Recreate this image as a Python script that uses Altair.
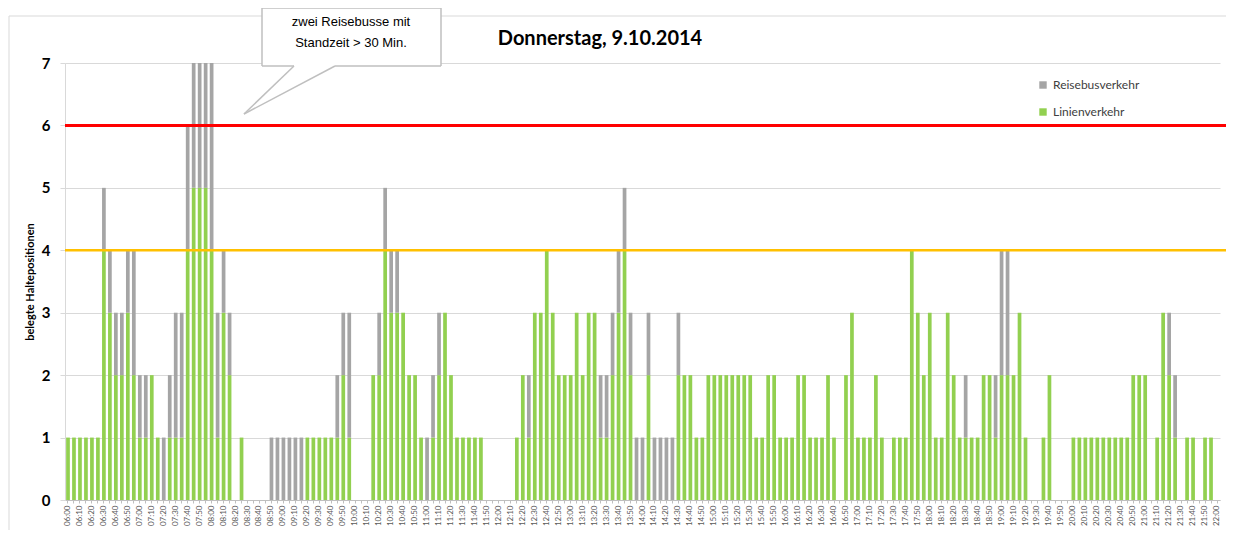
import altair as alt
import pandas as pd

# 5-minute categories 06:00 ... 22:00
times = [f"{h:02d}:{m:02d}" for h in range(6, 22) for m in range(0, 60, 5)] + ["22:00"]

# Linienverkehr (green) per 5-minute slot, one row per hour
linien = [
    1, 1, 1, 1, 1, 1, 4, 3, 2, 2, 3, 2,   # 06
    1, 1, 2, 1, 0, 1, 1, 1, 4, 5, 5, 5,   # 07
    4, 1, 3, 2, 0, 1, 0, 0, 0, 0, 0, 0,   # 08
    0, 0, 0, 0, 1, 1, 1, 1, 1, 1, 2, 1,   # 09
    0, 0, 0, 2, 2, 4, 3, 3, 3, 2, 2, 1,   # 10
    0, 1, 2, 3, 2, 1, 1, 1, 1, 1, 0, 0,   # 11
    0, 0, 0, 1, 2, 1, 3, 3, 4, 3, 2, 2,   # 12
    2, 3, 2, 3, 3, 1, 1, 2, 3, 4, 2, 0,   # 13
    0, 2, 0, 0, 0, 0, 2, 2, 2, 1, 1, 2,   # 14
    2, 2, 2, 2, 2, 2, 2, 1, 1, 2, 2, 1,   # 15
    1, 1, 2, 2, 1, 1, 1, 2, 1, 0, 2, 3,   # 16
    1, 1, 1, 2, 1, 0, 1, 1, 1, 4, 3, 2,   # 17
    3, 1, 1, 3, 2, 1, 1, 1, 1, 2, 2, 1,   # 18
    2, 2, 2, 3, 1, 0, 0, 1, 2, 0, 0, 0,   # 19
    1, 1, 1, 1, 1, 1, 1, 1, 1, 1, 2, 2,   # 20
    2, 0, 1, 3, 2, 1, 0, 1, 1, 0, 1, 1,   # 21
    0,                                    # 22:00
]

# Reisebusverkehr (grey) per 5-minute slot
reisebus = [
    0, 0, 0, 0, 0, 0, 1, 1, 1, 1, 1, 2,   # 06
    1, 1, 0, 0, 1, 1, 2, 2, 2, 2, 2, 2,   # 07
    3, 2, 1, 1, 0, 0, 0, 0, 0, 0, 1, 1,   # 08
    1, 1, 1, 1, 0, 0, 0, 0, 0, 1, 1, 2,   # 09
    0, 0, 0, 0, 1, 1, 1, 1, 0, 0, 0, 0,   # 10
    1, 1, 1, 0, 0, 0, 0, 0, 0, 0, 0, 0,   # 11
    0, 0, 0, 0, 0, 1, 0, 0, 0, 0, 0, 0,   # 12
    0, 0, 0, 0, 0, 1, 1, 1, 1, 1, 1, 1,   # 13
    1, 1, 1, 1, 1, 1, 1, 0, 0, 0, 0, 0,   # 14
    0, 0, 0, 0, 0, 0, 0, 0, 0, 0, 0, 0,   # 15
    0, 0, 0, 0, 0, 0, 0, 0, 0, 0, 0, 0,   # 16
    0, 0, 0, 0, 0, 0, 0, 0, 0, 0, 0, 0,   # 17
    0, 0, 0, 0, 0, 0, 1, 0, 0, 0, 0, 1,   # 18
    2, 2, 0, 0, 0, 0, 0, 0, 0, 0, 0, 0,   # 19
    0, 0, 0, 0, 0, 0, 0, 0, 0, 0, 0, 0,   # 20
    0, 0, 0, 0, 1, 1, 0, 0, 0, 0, 0, 0,   # 21
    0,                                    # 22:00
]

series_names = ["Reisebusverkehr", "Linienverkehr"]
series_colors = ["#A5A5A5", "#92D050"]
limit_red = 6
limit_orange = 4
title_text = "Donnerstag, 9.10.2014"
callout_line1 = "zwei Reisebusse mit"
callout_line2 = "Standzeit > 30 Min."
y_title = "belegte Haltepositionen"

rows = []
for t, g, r in zip(times, linien, reisebus):
    rows.append({"time": t, "typ": "Linienverkehr", "value": g, "ord": 0})
    rows.append({"time": t, "typ": "Reisebusverkehr", "value": r, "ord": 1})
df = pd.DataFrame(rows)

W, H = 1155, 437
CAL = "Lato"

bars = alt.Chart(df).mark_bar().encode(
    x=alt.X(
        "time:N",
        sort=times,
        scale=alt.Scale(domain=times, paddingInner=0.38, paddingOuter=0.19),
        axis=alt.Axis(
            title=None,
            labelAngle=270,
            labelFontSize=8,
            labelFont=CAL,
            labelColor="#595959",
            labelOverlap=False,
            labelPadding=2,
            labelExpr="toNumber(substring(datum.value, 3, 5)) % 10 == 0 ? datum.value : ''",
            tickSize=3,
            tickColor="#BFBFBF",
            domainColor="#BFBFBF",
            grid=False,
        ),
    ),
    y=alt.Y(
        "value:Q",
        stack="zero",
        scale=alt.Scale(domain=[0, 7], nice=False),
        axis=alt.Axis(
            title=y_title,
            titleFont=CAL,
            titleFontSize=11,
            titleFontWeight="bold",
            titleColor="#000000",
            titlePadding=6,
            values=[0, 1, 2, 3, 4, 5, 6, 7],
            format="d",
            labelFont=CAL,
            labelFontSize=15,
            labelFontWeight="bold",
            labelColor="#000000",
            labelPadding=10,
            tickSize=5,
            tickColor="#D9D9D9",
            domainColor="#D9D9D9",
            gridColor="#D9D9D9",
            grid=True,
        ),
    ),
    color=alt.Color(
        "typ:N",
        scale=alt.Scale(domain=series_names, range=series_colors),
        legend=alt.Legend(
            title=None,
            orient="none",
            legendX=972,
            legendY=16,
            symbolType="square",
            symbolSize=55,
            symbolStrokeWidth=0,
            labelFont=CAL,
            labelFontSize=12,
            labelColor="#404040",
            rowPadding=15,
        ),
    ),
    order=alt.Order("ord:Q", sort="ascending"),
)

one = pd.DataFrame({"a": [0]})

red_rule = alt.Chart(one).mark_rule(color="#FF0000", strokeWidth=3).encode(
    y=alt.datum(limit_red), x=alt.value(0), x2=alt.value(1175)
)
orange_rule = alt.Chart(one).mark_rule(color="#FFC000", strokeWidth=2.5).encode(
    y=alt.datum(limit_orange), x=alt.value(0), x2=alt.value(1175)
)

# outer chart frame
frame = alt.Chart(one).mark_rect(fill=None, stroke="#D9D9D9", strokeWidth=1).encode(
    x=alt.value(-56), x2=alt.value(1200), y=alt.value(-47), y2=alt.value(480)
)

# callout box
box_fill = alt.Chart(one).mark_rect(fill="white", stroke=None).encode(
    x=alt.value(197), x2=alt.value(376), y=alt.value(-55), y2=alt.value(3)
)
BC = "#BFBFBF"
BW = 1.5
box_lines = [
    alt.Chart(one).mark_rule(color=BC, strokeWidth=BW).encode(
        x=alt.value(197), x2=alt.value(376), y=alt.value(-55)),
    alt.Chart(one).mark_rule(color=BC, strokeWidth=BW).encode(
        x=alt.value(197), y=alt.value(-55), y2=alt.value(3)),
    alt.Chart(one).mark_rule(color=BC, strokeWidth=BW).encode(
        x=alt.value(376), y=alt.value(-55), y2=alt.value(3)),
    alt.Chart(one).mark_rule(color=BC, strokeWidth=BW).encode(
        x=alt.value(197), x2=alt.value(229), y=alt.value(3)),
    alt.Chart(one).mark_rule(color=BC, strokeWidth=BW).encode(
        x=alt.value(270), x2=alt.value(376), y=alt.value(3)),
    alt.Chart(one).mark_rule(color=BC, strokeWidth=BW).encode(
        x=alt.value(229), x2=alt.value(179), y=alt.value(3), y2=alt.value(51)),
    alt.Chart(one).mark_rule(color=BC, strokeWidth=BW).encode(
        x=alt.value(270), x2=alt.value(179), y=alt.value(3), y2=alt.value(51)),
]

callout1 = alt.Chart(pd.DataFrame({"t": [callout_line1]})).mark_text(
    font="Liberation Sans", fontSize=13, color="#000000", align="center", baseline="middle"
).encode(text="t:N", x=alt.value(286), y=alt.value(-41))
callout2 = alt.Chart(pd.DataFrame({"t": [callout_line2]})).mark_text(
    font="Liberation Sans", fontSize=13, color="#000000", align="center", baseline="middle"
).encode(text="t:N", x=alt.value(286), y=alt.value(-20))

title = alt.Chart(pd.DataFrame({"t": [title_text]})).mark_text(
    font=CAL, fontSize=20, fontWeight="bold", color="#000000", align="center", baseline="middle"
).encode(text="t:N", x=alt.value(535), y=alt.value(-24))

chart = alt.layer(
    frame, bars, orange_rule, red_rule, box_fill, *box_lines, callout1, callout2, title
).properties(
    width=W,
    height=H,
    autosize="none",
    padding={"left": 57, "top": 55, "right": 6, "bottom": 30},
).configure_view(stroke=None)

chart.save("out.html", embed_options={"renderer": "svg", "actions": False})
